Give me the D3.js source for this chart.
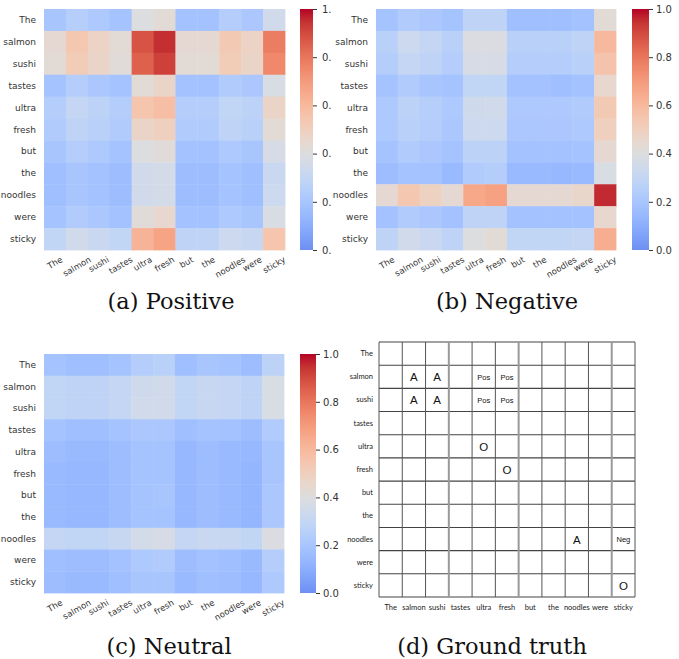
<!DOCTYPE html>
<html>
<head>
<meta charset="UTF-8">
<script src="https://d3js.org/d3.v7.min.js"></script>
<style>
  body { margin: 0; background: #fff; }
  svg { display: block; }
</style>
</head>
<body>
<svg width="679" height="659"></svg>
<script>
// tokens of the sentence, used on both axes
const words = ["The", "salmon", "sushi", "tastes", "ultra", "fresh", "but", "the", "noodles", "were", "sticky"];

// attention maps (rows = y tokens, cols = x tokens)
const posVals = [
  [0.20, 0.25, 0.22, 0.19, 0.40, 0.43, 0.18, 0.18, 0.24, 0.21, 0.35],
  [0.44, 0.54, 0.48, 0.43, 0.88, 0.95, 0.44, 0.44, 0.53, 0.48, 0.78],
  [0.43, 0.52, 0.47, 0.42, 0.85, 0.92, 0.43, 0.43, 0.52, 0.47, 0.75],
  [0.19, 0.24, 0.21, 0.19, 0.43, 0.47, 0.18, 0.18, 0.23, 0.21, 0.38],
  [0.24, 0.30, 0.27, 0.24, 0.55, 0.58, 0.24, 0.24, 0.29, 0.27, 0.47],
  [0.23, 0.28, 0.26, 0.23, 0.47, 0.50, 0.23, 0.23, 0.28, 0.26, 0.43],
  [0.20, 0.24, 0.22, 0.19, 0.40, 0.42, 0.18, 0.18, 0.22, 0.20, 0.37],
  [0.17, 0.20, 0.18, 0.16, 0.35, 0.36, 0.16, 0.16, 0.19, 0.17, 0.32],
  [0.17, 0.20, 0.18, 0.16, 0.35, 0.36, 0.16, 0.16, 0.19, 0.17, 0.33],
  [0.19, 0.23, 0.21, 0.18, 0.42, 0.45, 0.18, 0.18, 0.22, 0.20, 0.38],
  [0.29, 0.35, 0.32, 0.29, 0.62, 0.67, 0.28, 0.28, 0.33, 0.31, 0.55]
];
const negVals = [
  [0.19, 0.23, 0.21, 0.19, 0.28, 0.28, 0.17, 0.17, 0.17, 0.18, 0.43],
  [0.26, 0.33, 0.30, 0.26, 0.39, 0.39, 0.26, 0.26, 0.26, 0.28, 0.60],
  [0.24, 0.30, 0.28, 0.24, 0.37, 0.37, 0.24, 0.24, 0.24, 0.26, 0.56],
  [0.19, 0.23, 0.20, 0.19, 0.29, 0.29, 0.18, 0.18, 0.17, 0.18, 0.45],
  [0.22, 0.27, 0.25, 0.22, 0.34, 0.35, 0.22, 0.22, 0.22, 0.23, 0.53],
  [0.22, 0.26, 0.24, 0.21, 0.33, 0.33, 0.21, 0.21, 0.21, 0.22, 0.50],
  [0.19, 0.23, 0.21, 0.19, 0.27, 0.27, 0.18, 0.18, 0.18, 0.19, 0.44],
  [0.16, 0.19, 0.18, 0.15, 0.23, 0.24, 0.15, 0.15, 0.14, 0.15, 0.38],
  [0.44, 0.54, 0.49, 0.44, 0.66, 0.68, 0.44, 0.44, 0.44, 0.46, 0.96],
  [0.18, 0.23, 0.21, 0.18, 0.28, 0.28, 0.18, 0.18, 0.18, 0.18, 0.45],
  [0.28, 0.35, 0.32, 0.28, 0.40, 0.43, 0.29, 0.29, 0.29, 0.30, 0.64]
];
const neuVals = [
  [0.19, 0.17, 0.17, 0.19, 0.24, 0.26, 0.17, 0.20, 0.19, 0.16, 0.27],
  [0.29, 0.28, 0.28, 0.30, 0.34, 0.35, 0.29, 0.31, 0.30, 0.28, 0.38],
  [0.29, 0.28, 0.28, 0.30, 0.35, 0.35, 0.29, 0.31, 0.30, 0.28, 0.38],
  [0.19, 0.17, 0.17, 0.19, 0.21, 0.21, 0.17, 0.19, 0.18, 0.16, 0.23],
  [0.16, 0.15, 0.15, 0.16, 0.19, 0.19, 0.14, 0.16, 0.15, 0.14, 0.20],
  [0.15, 0.14, 0.14, 0.16, 0.19, 0.19, 0.14, 0.16, 0.15, 0.13, 0.20],
  [0.15, 0.14, 0.14, 0.16, 0.19, 0.20, 0.14, 0.16, 0.15, 0.13, 0.21],
  [0.15, 0.14, 0.14, 0.16, 0.19, 0.19, 0.14, 0.16, 0.15, 0.13, 0.21],
  [0.30, 0.29, 0.29, 0.31, 0.36, 0.37, 0.30, 0.32, 0.31, 0.29, 0.39],
  [0.17, 0.16, 0.16, 0.18, 0.22, 0.23, 0.16, 0.18, 0.17, 0.15, 0.24],
  [0.16, 0.15, 0.15, 0.17, 0.20, 0.20, 0.15, 0.17, 0.16, 0.14, 0.22]
];
const cbTicks = [0, 0.2, 0.4, 0.6, 0.8, 1.0];

// ground truth table: [row word index, col word index, tag]
const gtCells = [
  [1, 1, "A"], [1, 2, "A"], [2, 1, "A"], [2, 2, "A"],
  [1, 4, "Pos"], [1, 5, "Pos"], [2, 4, "Pos"], [2, 5, "Pos"],
  [4, 4, "O"], [5, 5, "O"], [10, 10, "O"],
  [8, 8, "A"], [8, 10, "Neg"]
];
const captions = ["(a) Positive", "(b) Negative", "(c) Neutral", "(d) Ground truth"];

// coolwarm (Moreland) samples; the figure only uses the upper part of it
const coolwarm = ["#3b4cc0", "#445acc", "#4d68d7", "#5775e1", "#6282ea", "#6c8ef1", "#779af7", "#82a5fb",
  "#8db0fe", "#98b9ff", "#a3c2ff", "#aec9fd", "#b8d0f9", "#c2d5f4", "#ccd9ee", "#d5dbe6", "#dddddd",
  "#e5d8d1", "#ecd3c5", "#f1cdb8", "#f5c4ad", "#f7bba0", "#f7b194", "#f7a687", "#f49a7b", "#f18d6f",
  "#ec7f63", "#e57058", "#de604d", "#d55042", "#cb3e38", "#c0282f", "#b40426"];
const cw = d3.piecewise(d3.interpolateRgb, coolwarm);
const fill = v => cw(0.16 + 0.84 * Math.max(0, Math.min(1, v)));

const svg = d3.select("svg");
const textCol = "#333";
const fmt = d3.format(".1f");

const defs = svg.append("defs");
const grad = defs.append("linearGradient").attr("id", "cbgrad")
  .attr("x1", 0).attr("y1", 1).attr("x2", 0).attr("y2", 0);
d3.range(0, 1.0001, 0.05).forEach(t => {
  grad.append("stop").attr("offset", t).attr("stop-color", fill(t));
});

function heatmap(vals, box) {
  const g = svg.append("g");
  const x = d3.scaleBand().domain(words).range([box.x0, box.x1]);
  const y = d3.scaleBand().domain(words).range([box.y0, box.y1]);

  vals.forEach((row, i) => {
    g.selectAll(null).data(row).enter().append("rect")
      .attr("x", (d, j) => x(words[j]))
      .attr("y", y(words[i]))
      .attr("width", x.bandwidth() + 0.4)
      .attr("height", y.bandwidth() + 0.4)
      .attr("fill", d => fill(d));
  });

  // y labels
  g.selectAll(null).data(words).enter().append("text")
    .attr("x", box.x0 - 8)
    .attr("y", d => y(d) + y.bandwidth() / 2)
    .attr("text-anchor", "end")
    .attr("dominant-baseline", "central")
    .attr("font-family", "DejaVu Sans")
    .attr("font-size", 9)
    .attr("fill", textCol)
    .text(d => d);

  // x labels, rotated 30 degrees and centred under each column
  g.selectAll(null).data(words).enter().append("text")
    .attr("text-anchor", "middle")
    .attr("dominant-baseline", "central")
    .attr("font-family", "DejaVu Sans")
    .attr("font-size", 8.5)
    .attr("fill", textCol)
    .text(d => d)
    .each(function(d) {
      const L = this.getComputedTextLength();
      const H = L * 0.5 + 8.5 * 0.866;
      d3.select(this).attr("transform",
        `translate(${x(d) + x.bandwidth() / 2},${box.y1 + 5 + H / 2}) rotate(-30)`);
    });

  // colorbar
  const cy = d3.scaleLinear().domain([0, 1]).range([box.y1, box.y0]);
  g.append("rect")
    .attr("x", box.cb).attr("y", box.y0)
    .attr("width", box.cbw).attr("height", box.y1 - box.y0)
    .attr("fill", "url(#cbgrad)");
  const axis = d3.axisRight(cy).tickValues(cbTicks).tickFormat(fmt).tickSize(4).tickPadding(box.pad);
  const ax = g.append("g")
    .attr("transform", `translate(${box.cb + box.cbw},0)`)
    .call(axis);
  ax.select(".domain").remove();
  ax.selectAll("line").attr("stroke", textCol);
  ax.selectAll("text").attr("font-family", "DejaVu Sans").attr("font-size", 10).attr("fill", textCol);
}

function caption(txt, cx, y) {
  svg.append("text")
    .attr("x", cx).attr("y", y)
    .attr("text-anchor", "middle")
    .attr("font-family", "DejaVu Serif")
    .attr("font-size", 22.5)
    .attr("fill", "#111")
    .text(txt);
}

heatmap(posVals, { x0: 44, x1: 285, y0: 9, y1: 250, cb: 300, cbw: 13, pad: 5 });
caption(captions[0], 171, 309);

// panel (b) sits on top of (a) and hides the ends of its colorbar labels
svg.append("rect").attr("x", 331).attr("y", 0).attr("width", 348).attr("height", 300).attr("fill", "#fff");
heatmap(negVals, { x0: 376, x1: 616, y0: 9, y1: 250, cb: 632, cbw: 17, pad: 3 });
caption(captions[1], 507, 309);

heatmap(neuVals, { x0: 44, x1: 284, y0: 354, y1: 593, cb: 300, cbw: 16, pad: 3 });
caption(captions[2], 169, 654);

// panel (d): ground truth table
(function() {
  const g = svg.append("g");
  const x = d3.scaleBand().domain(words).range([379, 635]);
  const y = d3.scaleBand().domain(words).range([342, 597]);
  const xs = words.map(w => x(w)).concat([635]);
  const ys = words.map(w => y(w)).concat([597]);
  const greyCols = [3, 6, 10];

  g.selectAll(null).data(ys).enter().append("line")
    .attr("x1", 379).attr("x2", 635)
    .attr("y1", d => d).attr("y2", d => d)
    .attr("stroke", "#444").attr("stroke-width", 1.1);
  g.selectAll(null).data(xs).enter().append("line")
    .attr("y1", 342).attr("y2", 597)
    .attr("x1", d => d).attr("x2", d => d)
    .attr("stroke", (d, i) => greyCols.includes(i) ? "#999" : "#555")
    .attr("stroke-width", (d, i) => greyCols.includes(i) ? 2 : 1);

  g.selectAll(null).data(words).enter().append("text")
    .attr("x", 373)
    .attr("y", d => y(d) + y.bandwidth() / 2)
    .attr("text-anchor", "end")
    .attr("dominant-baseline", "central")
    .attr("font-family", "Lato")
    .attr("font-size", 7.5)
    .attr("fill", "#222")
    .text(d => d);
  g.selectAll(null).data(words).enter().append("text")
    .attr("x", d => x(d) + x.bandwidth() / 2)
    .attr("y", 607)
    .attr("text-anchor", "middle")
    .attr("dominant-baseline", "central")
    .attr("font-family", "Lato")
    .attr("font-size", 7.5)
    .attr("fill", "#222")
    .text(d => d);

  g.selectAll(null).data(gtCells).enter().append("text")
    .attr("x", d => x(words[d[1]]) + x.bandwidth() / 2)
    .attr("y", d => y(words[d[0]]) + y.bandwidth() / 2 + 0.5)
    .attr("text-anchor", "middle")
    .attr("dominant-baseline", "central")
    .attr("font-family", "Liberation Sans")
    .attr("font-size", d => d[2].length > 1 ? 7.5 : 11.5)
    .attr("fill", "#111")
    .text(d => d[2]);

  caption(captions[3], 492, 654);
})();
</script>
</body>
</html>
